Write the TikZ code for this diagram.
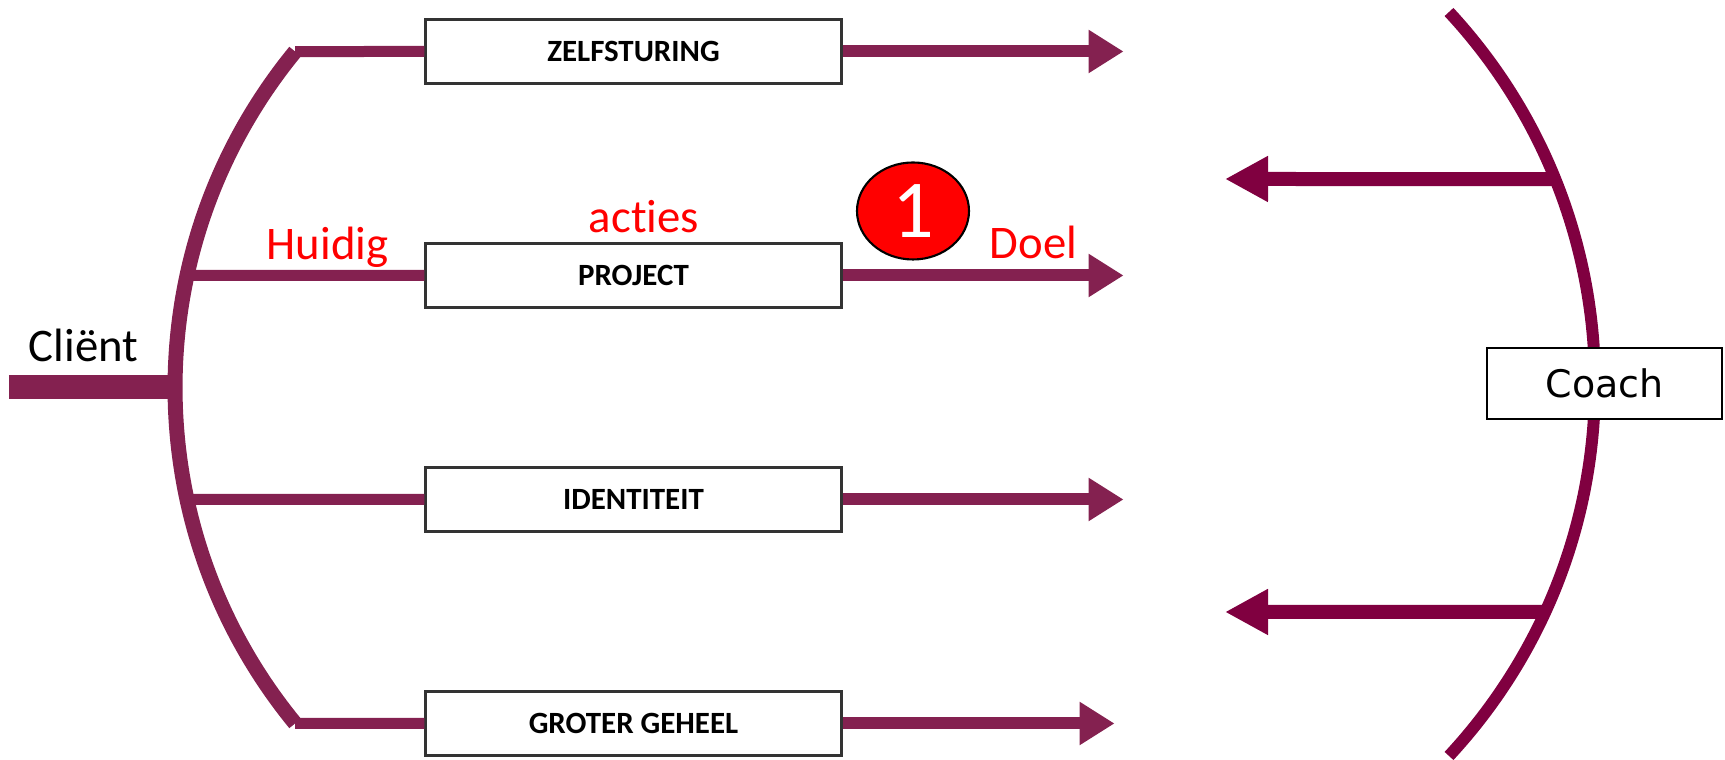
\documentclass[tikz,border=0pt]{standalone}
\usepackage{fontspec}
\setmainfont{Carlito}[Ligatures=NoCommon]
\newfontfamily\coachfont{DejaVu Sans}
\usetikzlibrary{arrows.meta, shapes.geometric}
\definecolor{clientpurple}{RGB}{132,33,80}
\definecolor{coachpurple}{RGB}{128,0,64}
\definecolor{notered}{RGB}{255,0,0}

\tikzset{
  level/.style={draw=black!80, line width=0.6pt, minimum width=4.16cm, minimum height=0.64cm, inner sep=0pt, font=\fontsize{8.8}{10}\selectfont\bfseries},
  note/.style={text=notered, font=\fontsize{13.3}{16}\selectfont, inner sep=0pt, anchor=base},
  branch/.style={clientpurple, line width=1.1mm},
  goal/.style={clientpurple, line width=1.2mm, -{Triangle[length=3.5mm,width=4.1mm]}},
  feedback/.style={coachpurple, line width=1.4mm, -{Triangle[length=4.3mm,width=4.3mm]}}
}

\begin{document}
\begin{tikzpicture}[node distance=2.24cm]
  \useasboundingbox (0,0) rectangle (17.25,7.6);

% define the levels
  \node[level] (zelf) at (6.335,7.085) {ZELFSTURING};
  \node[level] (proj) [below of=zelf] {PROJECT};
  \node[level] (iden) [below of=proj] {IDENTITEIT};
  \node[level] (grot) [below of=iden] {GROTER GEHEEL};

% the client side
  \coordinate (lc) at (7.05,3.725);
  \coordinate (stem) at (0.09,3.725);
  \draw[clientpurple, line width=1.5mm] (lc) ++(140.66:5.3) coordinate (ztop)
      arc[start angle=140.66, end angle=219.34, radius=5.3] coordinate (gbot);
  \path (lc) ++(167.8:5.3) coordinate (pbr)
        (lc) ++(192.2:5.3) coordinate (ibr)
        (lc) ++(180:5.3) coordinate (cmid);
  \draw[clientpurple, line width=2.4mm] (stem) -- (cmid);
  \draw[branch] (ztop) -- (zelf.west);
  \draw[branch] (pbr) -- (proj.west);
  \draw[branch] (ibr) -- (iden.west);
  \draw[branch] (gbot) -- (grot.west);
  \node[note, text=black] (client) at (0.835,3.98) {Cliënt};

% define the goals
  \foreach \b/\len in {zelf/2.81, proj/2.81, iden/2.81, grot/2.72}
    \draw[goal] (\b.east) -- ++(\len,0) coordinate (\b-doel);

  \node[note] (huidig) at (3.275,5.00) {Huidig};
  \node[note] (acties) at (6.44,5.27) {acties};
  \node[note] (doel) at (10.335,5.01) {Doel};
  \node[ellipse, draw, line width=0.6pt, fill=notered, text=white, inner sep=0pt,
        minimum width=1.12cm, minimum height=0.97cm,
        font=\fontsize{23.4}{24}\selectfont] (stap) at (9.13,5.49) {1};

% the coach side
  \coordinate (rc) at (10.48,3.76);
  \draw[coachpurple, line width=1.2mm] (rc) ++(42.85:5.47)
      arc[start angle=42.85, end angle=-42.85, radius=5.47];
  \path (rc) ++(22:5.47) coordinate (up)
        (rc) ++(-24.63:5.47) coordinate (down);
  \coordinate (uptip) at (12.25,5.81);
  \coordinate (downtip) at (12.25,1.48);
  \draw[feedback] (up) -- (uptip);
  \draw[feedback] (down) -- (downtip);
  \node[draw, line width=0.6pt, fill=white, minimum width=2.35cm, minimum height=0.71cm,
        font=\coachfont\fontsize{10.8}{13}\selectfont] (coach) at (16.045,3.765) {Coach};

\end{tikzpicture}
\end{document}
